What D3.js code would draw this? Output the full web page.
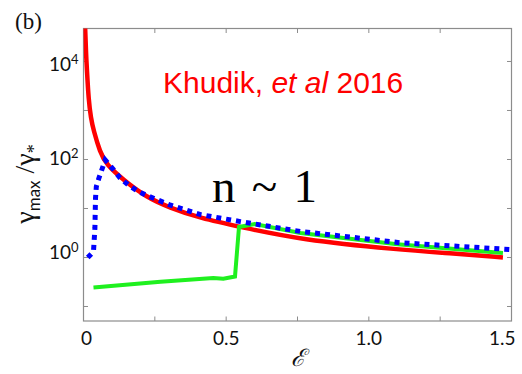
<!DOCTYPE html>
<html>
<head>
<meta charset="utf-8">
<script src="https://cdn.jsdelivr.net/npm/d3@7"></script>
<style>
  body { margin: 0; background: #fff; }
  svg { display: block; }
</style>
</head>
<body>
<div id="container"></div>
<script>
const WIDTH = 522;
const HEIGHT = 374;
const MARGIN = { TOP: 28.5, BOTTOM: 53, LEFT: 83.5, RIGHT: 10.5 };

const width = WIDTH - MARGIN.LEFT - MARGIN.RIGHT;
const height = HEIGHT - MARGIN.TOP - MARGIN.BOTTOM;

// curves: epsilon vs gamma_max/gamma_*
const redEps = [0.003, 0.006, 0.009, 0.012, 0.018, 0.026, 0.035, 0.058, 0.08, 0.14, 0.22, 0.3, 0.41, 0.55, 0.76, 1.1, 1.3, 1.47];
const redVal = [150000, 43600, 14000, 6760, 1620, 700, 398, 140, 79, 38, 17, 10.5, 6.3, 4.2, 2.3, 1.45, 1.2, 1.0];

const blueEps = [0.015, 0.035, 0.04, 0.042, 0.045, 0.053, 0.076, 0.105, 0.128, 0.158, 0.193, 0.228, 0.3, 0.41, 0.55, 0.76, 1.11, 1.5];
const blueVal = [1.0, 1.32, 4, 16, 28, 40, 98, 62, 42, 30, 22, 17.8, 12, 7.5, 5.4, 3.4, 2.0, 1.45];

const greenEps = [0.035, 0.27, 0.455, 0.49, 0.531, 0.545, 0.6, 0.76, 1.1, 1.47];
const greenVal = [0.245, 0.32, 0.38, 0.37, 0.41, 4.2, 4.8, 3.16, 1.86, 1.23];

const xTicks = [0, 0.25, 0.5, 0.75, 1.0, 1.25, 1.5];
const xTickLabels = ['0', '', '0.5', '', '1.0', '', '1.5'];
const yTicks = [0.1, 1, 10, 100, 1000, 10000];
const yLabelExp = [0, 2, 4];

const svg = d3.select('#container')
  .append('svg')
    .attr('width', WIDTH)
    .attr('height', HEIGHT);

const container = svg.append('g')
    .attr('transform', `translate(${MARGIN.LEFT}, ${MARGIN.TOP})`);

const x = d3.scaleLinear().domain([0, 1.5]).range([0, width]);
const y = d3.scaleLog().domain([Math.pow(10, -1.296), Math.pow(10, 4.673)]).range([height, 0]);

svg.append('defs').append('clipPath').attr('id', 'clip')
  .append('rect').attr('width', width).attr('height', height);

// frame
const AXIS = '#8c8c8c';
container.append('rect')
  .attr('width', width).attr('height', height)
  .attr('fill', 'none').attr('stroke', AXIS).attr('stroke-width', 1.2);

const tickLen = 4.5;
const tickG = container.append('g').attr('stroke', AXIS).attr('stroke-width', 1);
xTicks.forEach(t => {
  tickG.append('line').attr('x1', x(t)).attr('x2', x(t)).attr('y1', height).attr('y2', height - tickLen);
  tickG.append('line').attr('x1', x(t)).attr('x2', x(t)).attr('y1', 0).attr('y2', tickLen);
});
yTicks.forEach(t => {
  tickG.append('line').attr('x1', 0).attr('x2', tickLen).attr('y1', y(t)).attr('y2', y(t));
  tickG.append('line').attr('x1', width).attr('x2', width - tickLen).attr('y1', y(t)).attr('y2', y(t));
});

// x tick labels (first nudged right, last right-aligned like the original)
container.selectAll('.xlab')
  .data(xTicks.map((t, i) => ({ t, s: xTickLabels[i] })).filter(d => d.s))
  .enter().append('text')
    .attr('x', d => x(d.t) + (d.t === 0 ? 3 : d.t === 1.5 ? 4 : 0))
    .attr('y', height + 24)
    .attr('text-anchor', d => d.t === 1.5 ? 'end' : 'middle')
    .style('font-family', 'Lato, "Liberation Sans", sans-serif')
    .style('font-size', '19px')
    .attr('fill', '#111')
    .text(d => d.s);

// y tick labels 10^n
const ylab = container.selectAll('.ylab')
  .data(yLabelExp)
  .enter().append('text')
    .attr('x', -5)
    .attr('y', e => y(Math.pow(10, e)) + 6 + (e === 4 ? 4 : e === 0 ? -4 : 0))
    .attr('text-anchor', 'end')
    .style('font-family', 'Lato, "Liberation Sans", sans-serif')
    .style('font-size', '19px')
    .attr('fill', '#111');
ylab.append('tspan').text('10');
ylab.append('tspan').attr('dy', -7).style('font-size', '13px').text(e => e);

// curves
const line = d3.line()
  .x(d => x(d[0]))
  .y(d => y(d[1]));

const plot = container.append('g').attr('clip-path', 'url(#clip)');

plot.append('path')
  .datum(d3.zip(redEps, redVal))
  .attr('d', line.curve(d3.curveBasis))
  .attr('fill', 'none')
  .attr('stroke', '#ff0000')
  .attr('stroke-width', 4.5);

plot.append('path')
  .datum(d3.zip(greenEps, greenVal))
  .attr('d', line.curve(d3.curveLinear))
  .attr('fill', 'none')
  .attr('stroke', '#1ff01f')
  .attr('stroke-width', 4);

plot.append('path')
  .datum(d3.zip(blueEps, blueVal))
  .attr('d', line.curve(d3.curveLinear))
  .attr('fill', 'none')
  .attr('stroke', '#0000ff')
  .attr('stroke-width', 5)
  .attr('stroke-dasharray', '5,5');

// annotations
svg.append('text')
  .attr('x', 15).attr('y', 29)
  .style('font-family', '"Liberation Serif", serif')
  .style('font-size', '23px')
  .attr('fill', '#111')
  .text('(b)');

const kh = svg.append('text')
  .attr('x', 163).attr('y', 93)
  .style('font-family', '"Liberation Sans", Arial, sans-serif')
  .style('font-size', '30px')
  .attr('fill', '#ff0000');
kh.append('tspan').text('Khudik, ');
kh.append('tspan').style('font-style', 'italic').text('et al');
kh.append('tspan').text(' 2016');

svg.append('text')
  .attr('x', 212).attr('y', 201.5)
  .attr('textLength', 105).attr('lengthAdjust', 'spacing')
  .style('font-family', '"Liberation Serif", serif')
  .style('font-size', '47px')
  .attr('fill', '#000')
  .text('n ~ 1');

// axis titles
svg.append('text')
  .attr('x', MARGIN.LEFT + x(0.75)).attr('y', 366)
  .attr('text-anchor', 'middle')
  .style('font-family', '"DejaVu Serif", serif')
  .style('font-style', 'italic')
  .style('font-size', '24px')
  .attr('fill', '#111')
  .text('\u2130');

const yt = svg.append('text')
  .attr('transform', 'translate(34, 184) rotate(-90)')
  .attr('text-anchor', 'middle')
  .style('font-family', '"Liberation Serif", serif')
  .style('font-size', '28px')
  .attr('fill', '#111');
yt.append('tspan').text('\u03b3');
yt.append('tspan').attr('dy', 6).style('font-family', 'Lato, "Liberation Sans", sans-serif').style('font-size', '17px').text('max');
yt.append('tspan').attr('dy', -6).text(' /\u03b3');
yt.append('tspan').attr('dy', 6).style('font-size', '18px').text('*');
</script>
</body>
</html>
